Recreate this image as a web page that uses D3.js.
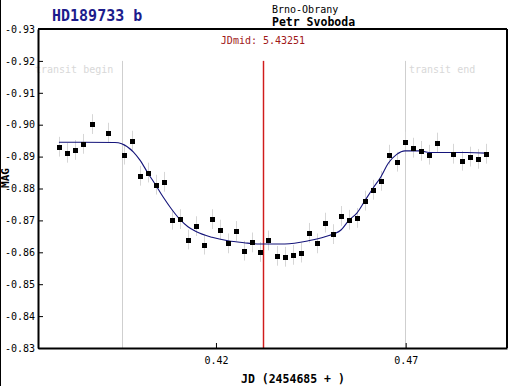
<!DOCTYPE html>
<html lang="en">
<head>
<meta charset="utf-8">
<title>HD189733 b</title>
<script type="text/javascript" src="https://cdn.jsdelivr.net/npm/d3@7"></script>
<style>
body{margin:0;background:#fff;}
text{font-family:"DejaVu Sans Mono",monospace;}
</style>
</head>
<body>
<script type="text/javascript">
// observed points (JD - 2454685, mag)
var jd = [0.37862,0.38073,0.38284,0.3850,0.38724,0.39146,0.39567,0.39786,0.39997,0.40208,
          0.40411,0.40622,0.40832,0.41043,0.41262,0.41473,0.41676,0.41895,0.42105,0.42316,
          0.42527,0.42738,0.42949,0.4316,0.43371,0.436,0.43811,0.44022,0.44232,0.44443,
          0.44654,0.44865,0.45076,0.45295,0.45498,0.45708,0.45927,0.46138,0.46349,0.46552,
          0.46771,0.46982,0.47192,0.47403,0.47614,0.47825,0.48247,0.48476,0.48695,0.48906,0.49116];
var mag = [-0.8931,-0.8912,-0.8921,-0.8940,-0.9002,-0.8975,-0.8906,-0.8950,-0.8840,-0.8850,
           -0.8812,-0.8821,-0.8702,-0.8704,-0.8640,-0.8682,-0.8624,-0.8704,-0.8671,-0.8628,
           -0.8667,-0.8605,-0.8631,-0.8601,-0.8637,-0.8589,-0.8586,-0.8592,-0.8599,-0.8661,
           -0.8628,-0.8693,-0.8657,-0.8714,-0.8702,-0.8708,-0.8762,-0.8796,-0.8824,-0.8906,
           -0.8884,-0.8947,-0.8928,-0.8918,-0.8906,-0.8944,-0.8909,-0.8887,-0.8900,-0.8893,-0.8909];
var magErr = 0.0031;

// fitted model curve
var fitJd  = [0.37862,0.39338,0.39515,0.39820,0.39997,0.40208,0.40411,0.40604,0.40832,0.41051,
              0.41262,0.41473,0.41895,0.42316,0.42738,0.4316,0.43819,0.44433,0.44873,0.45295,
              0.45506,0.45708,0.45927,0.46138,0.46349,0.46541,0.46763,0.46982,0.47403,0.47614,
              0.48608,0.49116];
var fitMag = [-0.8945,-0.8944,-0.8940,-0.8915,-0.8889,-0.8848,-0.8811,-0.8774,-0.8735,-0.8703,
              -0.8680,-0.8665,-0.8647,-0.8636,-0.8630,-0.8626,-0.8626,-0.8636,-0.8649,-0.8670,
              -0.8701,-0.8722,-0.8762,-0.8801,-0.8837,-0.8879,-0.8907,-0.8918,-0.8918,-0.8913,
              -0.8913,-0.8911];

var yTicks = [-0.93,-0.92,-0.91,-0.90,-0.89,-0.88,-0.87,-0.86,-0.85,-0.84,-0.83];
var xTicks = [0.42,0.47];
var transitBegin = 0.39515, transitEnd = 0.4697, jdMid = 0.43251;

var w = 515, h = 386;
var pLeft = 38, pRight = 507, pTop = 29, pBottom = 348;

var svg = d3.select("body").append("svg")
  .attr("width", w).attr("height", h);

var x = d3.scaleLinear().domain([0.3731, 0.4967]).range([pLeft, pRight]);
var y = d3.scaleLinear().domain([-0.93, -0.83]).range([pTop, pBottom]);

// outer left border of the image
svg.append("line").attr("x1",0.5).attr("x2",0.5).attr("y1",0).attr("y2",h)
   .attr("stroke","#000").attr("stroke-width",1);

// marker lines
[transitBegin, transitEnd].forEach(function(t){
  svg.append("line")
    .attr("x1", Math.round(x(t))+0.5).attr("x2", Math.round(x(t))+0.5)
    .attr("y1", y(-0.92)).attr("y2", pBottom)
    .attr("stroke", "#cfcfcf").attr("stroke-width", 1);
});
// red mid-transit line with a soft pink edge
var xm = Math.round(x(jdMid));
svg.append("rect")
  .attr("x", xm-1).attr("y", y(-0.92)).attr("width", 3).attr("height", pBottom - y(-0.92))
  .attr("fill", "#f6caca");
svg.append("line")
  .attr("x1", xm+0.5).attr("x2", xm+0.5)
  .attr("y1", y(-0.92)).attr("y2", pBottom)
  .attr("stroke", "#d01c1c").attr("stroke-width", 1);

svg.append("text").attr("x", 35).attr("y", 73)
  .attr("font-size", "10px").attr("fill", "#d8d8d8").text("transit begin");
svg.append("text").attr("x", 409).attr("y", 73)
  .attr("font-size", "10px").attr("fill", "#d8d8d8").text("transit end");
svg.append("text").attr("x", xm).attr("y", 44).attr("text-anchor","middle")
  .attr("font-size", "10px").attr("fill", "#a01818").text("JDmid: 5.43251");

// error bars
svg.selectAll("line.err")
  .data(jd)
  .enter()
  .append("line")
  .attr("class","err")
  .attr("x1", function(d){ return Math.round(x(d))+0.5; })
  .attr("x2", function(d){ return Math.round(x(d))+0.5; })
  .attr("y1", function(d,i){ return y(mag[i]-magErr); })
  .attr("y2", function(d,i){ return y(mag[i]+magErr); })
  .attr("stroke", "#d6d6d6").attr("stroke-width", 1);

// fit curve
var line = d3.line()
  .x(function(d){ return x(d); })
  .y(function(d,i){ return y(fitMag[i]); })
  .curve(d3.curveMonotoneX);
svg.append("path").datum(fitJd)
  .attr("d", line)
  .attr("fill","none").attr("stroke","#14147a").attr("stroke-width",1.1);

// points
svg.selectAll("rect.pt")
  .data(jd)
  .enter()
  .append("rect")
  .attr("class","pt")
  .attr("x", function(d){ return Math.round(x(d))-2; })
  .attr("y", function(d,i){ return Math.round(y(mag[i]))-2; })
  .attr("width", 5).attr("height", 5)
  .attr("fill", "#000");

// axes
var yAxis = d3.axisLeft(y).tickValues(yTicks).tickSizeInner(-5).tickSizeOuter(0).tickPadding(3)
  .tickFormat(function(d){ return d.toFixed(2); });
var gy = svg.append("g").attr("transform","translate("+pLeft+",0)").call(yAxis);
var xAxis = d3.axisBottom(x).tickValues(xTicks).tickSizeInner(-5).tickSizeOuter(0).tickPadding(9)
  .tickFormat(function(d){ return d.toFixed(2); });
var gx = svg.append("g").attr("transform","translate(0,"+pBottom+")").call(xAxis);
[gy, gx].forEach(function(g){
  g.selectAll("text").attr("font-family","DejaVu Sans Mono").attr("font-size","10px").attr("fill","#000");
  g.select(".domain").attr("stroke","#000").attr("stroke-width",2);
  g.selectAll(".tick line").attr("stroke","#000");
});

// top and right frame
svg.append("line").attr("x1",pLeft).attr("x2",pRight).attr("y1",pTop).attr("y2",pTop)
  .attr("stroke","#000").attr("stroke-width",2);
svg.append("line").attr("x1",pRight).attr("x2",pRight).attr("y1",pTop).attr("y2",pBottom)
  .attr("stroke","#000").attr("stroke-width",2);

// titles
svg.append("text").attr("x", 52).attr("y", 21)
  .attr("font-size","15px").attr("font-weight","bold").attr("fill","#1c1c8c")
  .text("HD189733 b");
svg.append("text").attr("x", 272).attr("y", 13)
  .attr("font-size","10px").attr("fill","#000").text("Brno-Obrany");
svg.append("text").attr("x", 272).attr("y", 26)
  .attr("font-size","11.5px").attr("font-weight","bold").attr("fill","#000").text("Petr Svoboda");
svg.append("text").attr("x", 241).attr("y", 383)
  .attr("font-size","11.5px").attr("font-weight","bold").attr("fill","#000").text("JD (2454685 + )");
svg.append("text").attr("transform","translate(9,178) rotate(-90)").attr("text-anchor","middle")
  .attr("font-size","11px").attr("font-weight","bold").attr("fill","#000").text("MAG");
</script>
</body>
</html>
